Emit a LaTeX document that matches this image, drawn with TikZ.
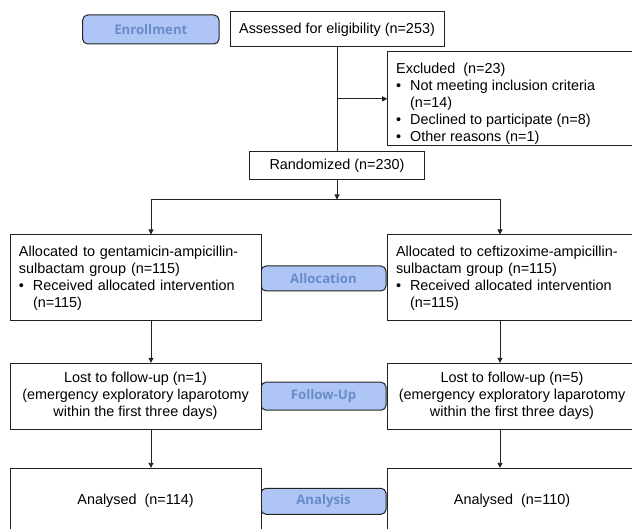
\documentclass[tikz,border=0pt]{standalone}
\usepackage{fontspec}
\setmainfont{Liberation Sans}
\newfontfamily\lblfont{Open Sans}
\usetikzlibrary{arrows.meta}
\definecolor{lblfill}{HTML}{AFC5F6}
\definecolor{lbltext}{HTML}{6A8BC9}
\definecolor{ln}{HTML}{222222}
\newcommand\mybul{\makebox[14pt][l]{\textbullet}}
\newcommand\myind{\hspace*{14pt}}
\begin{document}
\begin{tikzpicture}[x=1pt,y=-1pt,
  box/.style={draw=ln, line width=1pt, fill=white, inner sep=0pt, font=\fontsize{14.4}{17}\selectfont},
  txt/.style={inner sep=0pt, font=\fontsize{14.4}{17}\selectfont, align=left},
  lbl/.style={draw=ln, line width=1pt, rounded corners=5pt, fill=lblfill, text=lbltext, font=\lblfont\bfseries\fontsize{13.2}{15}\selectfont, inner sep=0pt},
  arr/.style={draw=ln, line width=0.9pt, -{Triangle[length=5pt,width=5pt]}},
  con/.style={draw=ln, line width=0.9pt}]
\useasboundingbox (0,0) rectangle (632,529);
% phase labels
\node[lbl, minimum width=136.3pt, minimum height=29pt] (enr) at (150.85,29.5) {Enrollment};
\node[lbl, minimum width=125pt, minimum height=25pt] (alloc) at (323.5,278.5) {Allocation};
\node[lbl, minimum width=125pt, minimum height=28pt] (fu) at (323.5,396.2) {Follow-Up};
\node[lbl, minimum width=125pt, minimum height=26pt] (ana) at (323.5,501.3) {Analysis};
% boxes
\node[box, minimum width=214pt, minimum height=35pt] (assess) at (337,29.5) {Assessed for eligibility (n=253)};
\node[box, minimum width=249.3pt, minimum height=94.3pt] (excl) at (512.35,98.85) {};
\node[txt, anchor=north west] (excltxt) at (396,62.5) {Excluded\ \ (n=23)\\ \mybul Not meeting inclusion criteria\\ \myind(n=14)\\ \mybul Declined to participate (n=8)\\ \mybul Other reasons (n=1)};
\node[box, minimum width=174.6pt, minimum height=28.3pt] (rand) at (337,165.85) {Randomized (n=230)};
\node[box, align=left, text width=233pt, inner xsep=9pt, minimum height=86pt] (gent) at (135.5,278) {Allocated to gentamicin-ampicillin-\\sulbactam group (n=115)\\ \mybul Received allocated intervention\\ \myind(n=115)};
\node[box, align=left, text width=232pt, inner xsep=9pt, minimum height=86pt] (ceft) at (512,278) {Allocated to ceftizoxime-ampicillin-\\sulbactam group (n=115)\\ \mybul Received allocated intervention\\ \myind(n=115)};
\node[box, align=center, minimum width=251pt, minimum height=65.7pt] (lostL) at (135.5,396.15) {Lost to follow-up (n=1)\\(emergency exploratory laparotomy\\within the first three days)};
\node[box, align=center, minimum width=250pt, minimum height=65.7pt] (lostR) at (512,396.15) {Lost to follow-up (n=5)\\(emergency exploratory laparotomy\\within the first three days)};
\node[box, minimum width=251pt, minimum height=64pt] (anaL) at (135.5,500.3) {Analysed\ \ (n=114)};
\node[box, minimum width=250pt, minimum height=64pt] (anaR) at (512,500.3) {Analysed\ \ (n=110)};
% connectors
\coordinate (xL) at (151,0);
\coordinate (xR) at (500,0);
\coordinate (split) at (337,199.5);
\draw[con] (assess.south) -- (rand.north);
\draw[arr] (assess.south |- excl.west) -- (excl.west);
\draw[arr] (rand.south) -- (split);
\draw[con] (xL |- split) -- (xR |- split);
\draw[arr] (xL |- split) -- (xL |- gent.north);
\draw[arr] (xR |- split) -- (xR |- ceft.north);
\draw[arr] (xL |- gent.south) -- (xL |- lostL.north);
\draw[arr] (xR |- ceft.south) -- (xR |- lostR.north);
\draw[arr] (xL |- lostL.south) -- (xL |- anaL.north);
\draw[arr] (xR |- lostR.south) -- (xR |- anaR.north);
\end{tikzpicture}
\end{document}
